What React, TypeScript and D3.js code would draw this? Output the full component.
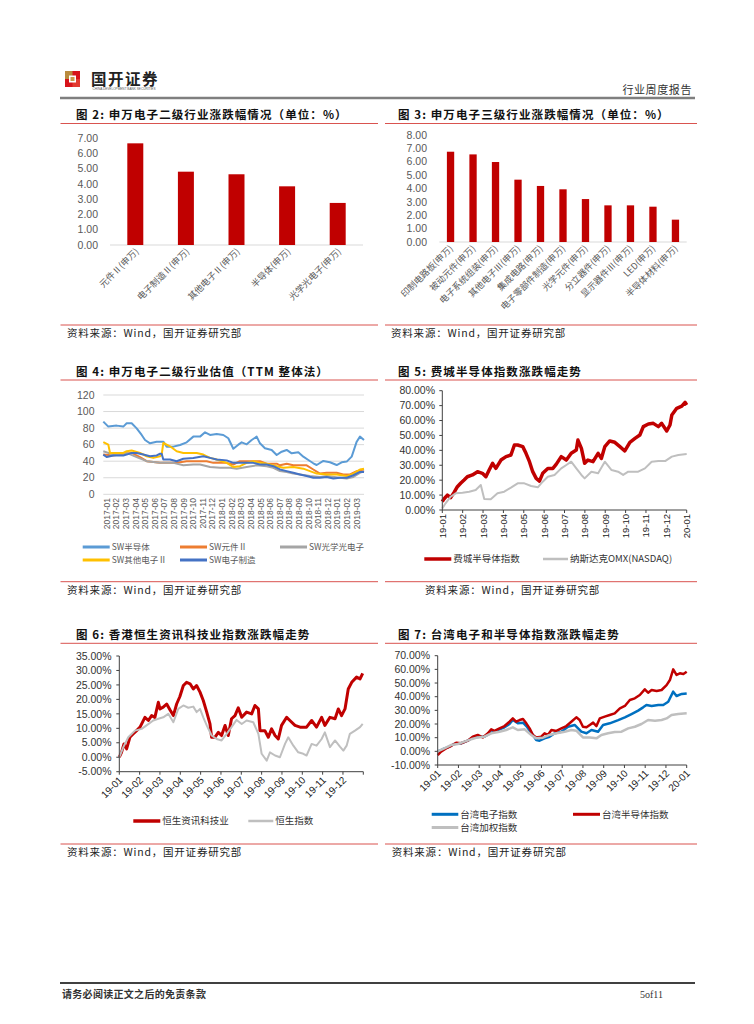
import React from "react";
import * as d3 from "d3";

const CJK = "'Noto Sans CJK SC', 'Noto Sans', sans-serif";
const LAT = "'Liberation Sans', Arial, sans-serif";
const RULE = "#D9534F";
const BAR = "#C00000";
const AXIS_TXT = "#595959";

// ---------- Figure 2 ----------
const fig2Categories = ["元件Ⅱ(申万)", "电子制造Ⅱ(申万)", "其他电子Ⅱ(申万)", "半导体(申万)", "光学光电子(申万)"];
const fig2Values = [6.67, 4.81, 4.64, 3.85, 2.76];
const fig2Ticks = [0, 1, 2, 3, 4, 5, 6, 7];

// ---------- Figure 3 ----------
const fig3Categories = ["印制电路板(申万)", "被动元件(申万)", "电子系统组装(申万)", "其他电子Ⅲ(申万)", "集成电路(申万)", "电子零部件制造(申万)", "光学元件(申万)", "分立器件(申万)", "显示器件Ⅲ(申万)", "LED(申万)", "半导体材料(申万)"];
const fig3Values = [6.75, 6.55, 5.98, 4.66, 4.19, 3.94, 3.21, 2.74, 2.74, 2.64, 1.67];
const fig3Ticks = [0, 1, 2, 3, 4, 5, 6, 7, 8];

// ---------- Figure 4 (months since 2017-01, PE) ----------
const fig4Months = ["2017-01", "2017-02", "2017-03", "2017-04", "2017-05", "2017-06", "2017-07", "2017-08", "2017-09", "2017-10", "2017-11", "2017-12", "2018-01", "2018-02", "2018-03", "2018-04", "2018-05", "2018-06", "2018-07", "2018-08", "2018-09", "2018-10", "2018-11", "2018-12", "2019-01", "2019-02", "2019-03"];
const fig4Ticks = [0, 20, 40, 60, 80, 100, 120];
const swSemi: [number, number][] = [[-0.35, 87.8], [0.17, 81.8], [1.04, 83], [1.73, 81.8], [2.08, 85.8], [2.6, 85.8], [3.12, 79.7], [3.64, 71.7], [3.99, 65.6], [4.51, 61.6], [5.2, 63.6], [5.89, 63.6], [6.24, 57.6], [6.93, 57.6], [7.63, 59.6], [8.32, 62.8], [9.01, 69.7], [9.71, 69.7], [10.23, 74.9], [10.75, 71.7], [11.44, 72.9], [12.13, 71.7], [12.65, 67.7], [13.17, 55], [13.69, 60], [14.04, 62.8], [14.56, 60.4], [15.08, 65.6], [15.6, 69.7], [15.94, 61.6], [16.46, 55.6], [17.16, 53.6], [17.68, 47.5], [18.2, 51.5], [18.72, 53.6], [19.24, 49.5], [19.93, 50.7], [20.45, 45.5], [20.97, 41.5], [21.49, 37.5], [21.84, 35.4], [22.53, 40.3], [23.22, 38.7], [23.92, 35.4], [24.44, 38.7], [24.96, 39.5], [25.48, 45.5], [26.0, 63.6], [26.34, 69.7], [26.76, 65.6]];
const swComponent: [number, number][] = [[-0.35, 48], [0.69, 47], [1.73, 49], [2.6, 50], [3.47, 45], [4.16, 40], [5.55, 38], [7.28, 38], [8.32, 40], [10.4, 40], [11.09, 38], [12.48, 38], [13.17, 36], [13.86, 40], [15.94, 40], [16.64, 37], [17.68, 37], [18.02, 35], [18.72, 37], [19.41, 35], [20.8, 35], [21.49, 30], [22.18, 25], [22.88, 26], [23.92, 26], [24.61, 24], [25.3, 24], [26.0, 28], [26.76, 30]];
const swOptical: [number, number][] = [[-0.35, 52], [0.69, 48], [2.08, 50], [3.12, 45], [4.16, 40], [5.55, 38], [6.93, 38], [7.97, 35], [9.01, 36], [9.71, 36], [10.75, 33], [11.79, 32], [12.82, 32], [13.52, 31], [14.56, 33], [15.6, 35], [16.64, 34], [17.33, 32], [18.02, 28], [18.72, 27], [19.41, 25], [20.1, 24], [21.14, 22], [22.18, 21], [22.88, 22], [24.26, 20], [24.96, 19], [25.65, 21], [26.34, 26], [26.76, 28]];
const swOther: [number, number][] = [[-0.35, 63], [0.17, 60], [0.35, 50], [1.04, 50], [1.73, 50], [2.08, 52], [2.6, 53], [3.47, 50], [4.16, 46], [4.85, 44], [5.55, 46], [5.72, 48], [5.89, 62], [6.59, 58], [7.28, 52], [7.97, 50], [8.67, 50], [9.36, 50], [10.05, 48], [10.75, 44], [11.44, 42], [12.48, 38], [13.17, 33], [13.86, 34], [14.56, 38], [15.25, 40], [15.94, 38], [16.64, 37], [17.68, 34], [18.37, 32], [19.41, 33], [20.45, 31], [21.14, 28], [21.84, 25], [22.88, 24], [23.92, 24], [24.96, 22], [25.65, 25], [26.34, 30], [26.76, 31]];
const swManufacturing: [number, number][] = [[-0.35, 48], [0, 45], [0.69, 47], [1.73, 47], [2.08, 48], [2.6, 50], [3.12, 50], [3.81, 48], [4.51, 46], [5.2, 47], [5.55, 49], [5.72, 49], [5.89, 42], [6.59, 42], [7.28, 40], [7.97, 43], [9.01, 44], [10.05, 46], [10.75, 44], [11.44, 42], [12.48, 41], [13.17, 38], [13.86, 38], [14.56, 38], [15.25, 38], [15.94, 36], [16.64, 36], [17.33, 34], [18.02, 30], [18.72, 28], [19.41, 26], [20.1, 24], [20.8, 22], [21.49, 20], [22.18, 20], [22.88, 21], [23.57, 19], [24.26, 20], [24.96, 20], [25.65, 23], [26.34, 27], [26.76, 27]];

// ---------- Figure 5 (months since 2019-01, %) ----------
const fig5Months = ["19-01", "19-02", "19-03", "19-04", "19-05", "19-06", "19-07", "19-08", "19-09", "19-10", "19-11", "19-12", "20-01"];
const fig5Ticks = [0, 10, 20, 30, 40, 50, 60, 70, 80];
const sox: [number, number][] = [[0, 5.6], [0.08, 7.4], [0.25, 10], [0.41, 8.3], [0.58, 11.8], [0.74, 15.6], [0.9, 17.9], [1.07, 20.1], [1.23, 22.3], [1.48, 23.5], [1.73, 25.7], [1.97, 24.6], [2.14, 22.3], [2.3, 26.8], [2.47, 31.3], [2.63, 27.9], [2.88, 33.5], [3.13, 35.8], [3.37, 36.9], [3.54, 43.6], [3.7, 43.6], [3.95, 42.5], [4.11, 38], [4.28, 32.4], [4.44, 25.7], [4.61, 21.2], [4.77, 19.4], [4.93, 24.6], [5.18, 27.9], [5.43, 27.9], [5.59, 30.6], [5.84, 35.8], [6.09, 33.5], [6.33, 38], [6.58, 40.2], [6.66, 46.9], [6.83, 41.3], [6.99, 31.3], [7.15, 33.5], [7.4, 32.4], [7.65, 38], [7.81, 34.6], [7.98, 42.5], [8.22, 46.3], [8.47, 45.4], [8.72, 42.5], [8.96, 39.6], [9.21, 45.4], [9.46, 48], [9.7, 50.3], [9.87, 55.9], [10.12, 57.7], [10.36, 58.1], [10.61, 55.9], [10.77, 58.1], [11.02, 53], [11.18, 57], [11.27, 63.7], [11.51, 68.2], [11.76, 69.7], [11.92, 72.2], [12.0, 70.4]];
const nasdaq: [number, number][] = [[0, 1.1], [0.16, 4.5], [0.41, 8.9], [0.66, 11.2], [0.99, 11.6], [1.32, 12.3], [1.64, 13.4], [1.89, 16.8], [2.06, 7.4], [2.38, 7.2], [2.71, 11.2], [3.04, 12.3], [3.37, 15], [3.7, 17.9], [4.03, 17.9], [4.36, 16.1], [4.69, 15.2], [4.93, 19], [5.18, 22.3], [5.51, 23.5], [5.84, 27.9], [6.09, 30.2], [6.33, 32.4], [6.58, 27.9], [6.83, 23.5], [6.99, 21.2], [7.32, 25.7], [7.65, 24.6], [7.98, 32.4], [8.31, 26.8], [8.63, 25.7], [8.88, 23.5], [9.13, 25.7], [9.62, 25.7], [9.95, 27.9], [10.28, 32.4], [10.61, 32.8], [10.94, 32.8], [11.27, 35.8], [11.59, 36.9], [12.0, 37.5]];

// ---------- Figure 6 ----------
const fig6Months = ["19-01", "19-02", "19-03", "19-04", "19-05", "19-06", "19-07", "19-08", "19-09", "19-10", "19-11", "19-12"];
const fig6Ticks = [-5, 0, 5, 10, 15, 20, 25, 30, 35];
const hsIT: [number, number][] = [[0, 0], [0.11, 1.7], [0.23, 4.6], [0.36, 2.9], [0.52, 6.9], [0.69, 8.1], [0.85, 9.2], [1.02, 10.4], [1.26, 13.8], [1.43, 12.7], [1.59, 14.4], [1.75, 13.8], [1.92, 19], [2.0, 16.7], [2.16, 17.3], [2.33, 18.4], [2.49, 16.4], [2.66, 14.4], [2.82, 18.4], [2.98, 21], [3.15, 24.8], [3.31, 25.9], [3.48, 25.4], [3.64, 23.6], [3.8, 24.8], [3.97, 22.5], [4.13, 19.6], [4.3, 15.6], [4.46, 11.5], [4.54, 6.9], [4.7, 6.9], [4.87, 8.6], [5.03, 7.5], [5.2, 11], [5.36, 7.5], [5.52, 13.3], [5.69, 14.4], [5.85, 17.1], [6.02, 13.8], [6.26, 15.6], [6.51, 15], [6.67, 17.9], [6.84, 16.7], [6.92, 9.2], [7.16, 9.2], [7.33, 6.9], [7.49, 9.8], [7.66, 7.5], [7.82, 6.3], [7.98, 11], [8.23, 13.8], [8.39, 12.7], [8.64, 11], [8.89, 10.4], [9.21, 10.4], [9.46, 12.7], [9.7, 10.4], [9.95, 13.8], [10.11, 11], [10.36, 13.8], [10.61, 13.3], [10.77, 16.7], [10.93, 14.4], [11.1, 16.7], [11.26, 23.6], [11.43, 25.9], [11.67, 27.7], [11.84, 27.1], [11.97, 29]];
const hsi: [number, number][] = [[0, 0], [0.2, 3.5], [0.44, 6.9], [0.77, 9.2], [1.1, 9.8], [1.34, 11], [1.67, 12.7], [1.92, 13.3], [2.16, 13.8], [2.41, 15], [2.66, 12.1], [2.9, 16.7], [3.15, 17.9], [3.39, 17.1], [3.64, 17.5], [3.8, 15.6], [3.97, 16.7], [4.13, 13.8], [4.3, 11], [4.54, 7.5], [4.79, 6.3], [5.03, 5.8], [5.28, 8.1], [5.52, 10.4], [5.77, 12.9], [6.02, 11.5], [6.26, 12.7], [6.59, 12.1], [6.84, 8.1], [7.0, 1.2], [7.25, -1.2], [7.41, 1.7], [7.66, 0.6], [7.9, 0], [8.15, 4.6], [8.31, 6.9], [8.56, 4], [8.8, 1.7], [9.05, 1.2], [9.21, 0.6], [9.46, 4.6], [9.7, 4], [9.95, 6.3], [10.11, 8.6], [10.36, 3.5], [10.61, 5.8], [10.85, 3.7], [11.02, 2.3], [11.18, 4], [11.34, 8.1], [11.59, 9.2], [11.84, 10.4], [11.97, 11.5]];

// ---------- Figure 7 ----------
const fig7Months = ["19-01", "19-02", "19-03", "19-04", "19-05", "19-06", "19-07", "19-08", "19-09", "19-10", "19-11", "19-12", "20-01"];
const fig7Ticks = [-10, 0, 10, 20, 30, 40, 50, 60, 70];
const twElec: [number, number][] = [[0, 0], [0.24, 1.5], [0.48, 2.9], [0.81, 5.4], [1.13, 5.9], [1.45, 7.8], [1.69, 10.2], [2.01, 10.7], [2.25, 10.7], [2.58, 13.7], [2.9, 15.6], [3.22, 17.6], [3.46, 20], [3.62, 22.9], [3.86, 20.5], [4.11, 21], [4.27, 18.5], [4.51, 13.7], [4.75, 8.3], [4.91, 7.8], [5.15, 9.5], [5.39, 10.7], [5.64, 13.2], [5.96, 14.4], [6.28, 18], [6.6, 19.3], [6.92, 14.4], [7.17, 13.2], [7.41, 15.6], [7.73, 14.4], [7.97, 19.3], [8.29, 20.5], [8.7, 22.9], [9.02, 24.9], [9.34, 27.3], [9.66, 29.8], [9.9, 32.2], [10.06, 33.9], [10.31, 33.2], [10.63, 33.9], [10.87, 33.9], [11.11, 36.3], [11.35, 43.7], [11.51, 40.5], [11.76, 42], [12.0, 42.4]];
const twSemi: [number, number][] = [[0, -2.7], [0.16, -0.2], [0.4, 2.2], [0.64, 3.9], [0.89, 6.3], [1.13, 5.9], [1.45, 7.8], [1.69, 10.7], [1.93, 12], [2.17, 10.2], [2.42, 13.2], [2.58, 16.1], [2.74, 14.9], [2.98, 16.8], [3.22, 18.5], [3.46, 21.7], [3.62, 24.1], [3.78, 21.7], [3.95, 22.9], [4.11, 23.7], [4.27, 20.5], [4.43, 16.8], [4.59, 12], [4.75, 10.2], [4.99, 10.7], [5.15, 13.2], [5.31, 12], [5.48, 15.6], [5.72, 14.9], [5.96, 16.8], [6.2, 18.5], [6.44, 21.7], [6.68, 24.9], [6.84, 22.9], [7.0, 18], [7.17, 17.6], [7.33, 19.3], [7.49, 21], [7.65, 18.5], [7.81, 24.1], [8.05, 25.4], [8.29, 26.6], [8.53, 27.8], [8.78, 31.5], [9.02, 33.2], [9.26, 37.6], [9.5, 38.8], [9.74, 41.2], [9.98, 45.4], [10.14, 42.9], [10.31, 44.9], [10.55, 44.1], [10.79, 44.9], [11.03, 48.5], [11.19, 52.2], [11.35, 60], [11.51, 55.9], [11.67, 57.1], [11.84, 56.6], [12.0, 58.3]];
const twWeighted: [number, number][] = [[0, 0], [0.32, 2.2], [0.64, 4.6], [0.97, 5.4], [1.29, 7.1], [1.61, 8.8], [1.93, 10.2], [2.25, 10.7], [2.58, 13.2], [2.98, 14.4], [3.3, 15.6], [3.62, 17.6], [3.86, 15.6], [4.19, 16.1], [4.51, 12], [4.75, 9.5], [5.07, 10], [5.39, 12], [5.72, 13.2], [6.12, 14.4], [6.44, 15.6], [6.68, 15.1], [7.0, 10.2], [7.33, 10.2], [7.65, 9.5], [7.89, 12], [8.21, 13.2], [8.53, 14.1], [8.86, 14.4], [9.18, 16.8], [9.5, 18], [9.82, 20], [10.14, 22.9], [10.47, 22.4], [10.79, 22.9], [11.03, 24.1], [11.27, 26.6], [11.59, 27.3], [12.0, 27.8]];

function Title({ x, y, text }: { x: number; y: number; text: string }) {
  return (
    <text x={x} y={y} fontFamily={CJK} fontWeight={700} fontSize={11.5} letterSpacing={1.1} fill="#111">
      {text}
    </text>
  );
}

function Rule({ x1, x2, y }: { x1: number; x2: number; y: number }) {
  return <line x1={x1} x2={x2} y1={y} y2={y} stroke={RULE} strokeWidth={1} />;
}

function Source({ x, y }: { x: number; y: number }) {
  return (
    <text x={x} y={y} fontFamily={CJK} fontSize={10.5} letterSpacing={0.8} fill="#222">
      资料来源：Wind，国开证券研究部
    </text>
  );
}

function BarChart(props: {
  cats: string[]; vals: number[]; ticks: number[];
  left: number; right: number; top: number; base: number; labelRight: number; barFrac: number; labelDx: number;
}) {
  const { cats, vals, ticks, left, right, top, base, labelRight, barFrac, labelDx } = props;
  const y = d3.scaleLinear().domain([0, ticks[ticks.length - 1]]).range([base, top]);
  const x = d3.scaleBand().domain(cats).range([left, right]).paddingInner(1 - barFrac).paddingOuter((1 - barFrac) / 2);
  return (
    <g>
      {ticks.map((t) => (
        <text key={t} x={labelRight} y={y(t)} dy="0.35em" textAnchor="end" fontFamily={LAT} fontSize={10.5} fill={AXIS_TXT}>
          {t.toFixed(2)}
        </text>
      ))}
      <line x1={left} x2={right} y1={base} y2={base} stroke="#D9D9D9" strokeWidth={1} />
      {cats.map((c, i) => (
        <rect key={c} x={x(c)} y={y(vals[i])} width={x.bandwidth()} height={base - y(vals[i])} fill={BAR} />
      ))}
      {cats.map((c) => {
        const cx = (x(c) as number) + x.bandwidth() / 2 + labelDx;
        return (
          <text key={c} transform={`translate(${cx},${base + 7}) rotate(-45)`} textAnchor="end" fontFamily={CJK} fontSize={9} fill={AXIS_TXT}>
            {c}
          </text>
        );
      })}
    </g>
  );
}

function Fig4() {
  const x = d3.scaleLinear().domain([-0.35, 26.76]).range([103.3, 364]);
  const y = d3.scaleLinear().domain([0, 120]).range([494.3, 395]);
  const line = d3.line<[number, number]>().x((d) => x(d[0])).y((d) => y(d[1]));
  const series: { name: string; data: [number, number][]; color: string }[] = [
    { name: "SW半导体", data: swSemi, color: "#5B9BD5" },
    { name: "SW元件Ⅱ", data: swComponent, color: "#ED7D31" },
    { name: "SW光学光电子", data: swOptical, color: "#A5A5A5" },
    { name: "SW其他电子Ⅱ", data: swOther, color: "#FFC000" },
    { name: "SW电子制造", data: swManufacturing, color: "#4472C4" },
  ];
  const legendPos = [
    [82.7, 547], [180, 547], [280, 547], [82.7, 560], [180, 560],
  ];
  return (
    <g>
      {fig4Ticks.map((t) => (
        <g key={t}>
          <line x1={103.3} x2={364} y1={y(t)} y2={y(t)} stroke="#D9D9D9" strokeWidth={1} />
          <text x={94.5} y={y(t)} dy="0.35em" textAnchor="end" fontFamily={LAT} fontSize={10.5} fill={AXIS_TXT}>{t}</text>
        </g>
      ))}
      {fig4Months.map((m, i) => (
        <text key={m} transform={`translate(${x(i) + 3},${498}) rotate(-90)`} textAnchor="end" fontFamily={LAT} fontSize={8.5} fill={AXIS_TXT}>{m}</text>
      ))}
      {series.map((s) => (
        <path key={s.name} d={line(s.data) || ""} fill="none" stroke={s.color} strokeWidth={2} strokeLinejoin="round" />
      ))}
      {series.map((s, i) => (
        <g key={s.name}>
          <line x1={legendPos[i][0]} x2={legendPos[i][0] + 27} y1={legendPos[i][1]} y2={legendPos[i][1]} stroke={s.color} strokeWidth={3} />
          <text x={legendPos[i][0] + 29} y={legendPos[i][1]} dy="0.35em" fontFamily={CJK} fontSize={8.5} fill={AXIS_TXT}>{s.name}</text>
        </g>
      ))}
    </g>
  );
}

function TimeChart(props: {
  left: number; right: number; top: number; bottom: number; ticks: number[]; months: string[]; nMonths: number;
  labelRight: number; rotate: number; series: { data: [number, number][]; color: string; width: number }[];
  labelSize: number;
}) {
  const { left, right, top, bottom, ticks, months, nMonths, labelRight, rotate, series, labelSize } = props;
  const x = d3.scaleLinear().domain([0, nMonths]).range([left, right]);
  const y = d3.scaleLinear().domain([ticks[0], ticks[ticks.length - 1]]).range([bottom, top]);
  const line = d3.line<[number, number]>().x((d) => x(d[0])).y((d) => y(d[1]));
  const axisColor = "#404040";
  return (
    <g>
      {series.map((s, i) => (
        <path key={i} d={line(s.data) || ""} fill="none" stroke={s.color} strokeWidth={s.width} strokeLinejoin="round" />
      ))}
      <line x1={left} x2={left} y1={top} y2={bottom} stroke={axisColor} strokeWidth={1} />
      <line x1={left} x2={right} y1={bottom} y2={bottom} stroke={axisColor} strokeWidth={1} />
      {ticks.map((t) => (
        <g key={t}>
          <line x1={left - 3} x2={left} y1={y(t)} y2={y(t)} stroke={axisColor} strokeWidth={1} />
          <text x={labelRight} y={y(t)} dy="0.35em" textAnchor="end" fontFamily={LAT} fontSize={10.5} fill="#333">
            {t.toFixed(2) + "%"}
          </text>
        </g>
      ))}
      {d3.range(0, nMonths + 1).map((i) => (
        <line key={i} x1={x(i)} x2={x(i)} y1={bottom} y2={bottom + 3} stroke={axisColor} strokeWidth={1} />
      ))}
      {months.map((m, i) =>
        rotate === -90 ? (
          <text key={m} transform={`translate(${x(i) + 3.5},${bottom + 4}) rotate(-90)`} textAnchor="end" fontFamily={LAT} fontSize={labelSize} fill="#222">{m}</text>
        ) : (
          <text key={m} transform={`translate(${x(i) + 4},${bottom + 9}) rotate(-45)`} textAnchor="end" fontFamily={LAT} fontSize={labelSize} fill="#222">{m}</text>
        )
      )}
    </g>
  );
}

function Legend({ items }: { items: { x: number; y: number; color: string; width: number; label: string; len: number }[] }) {
  return (
    <g>
      {items.map((it) => (
        <g key={it.label}>
          <line x1={it.x} x2={it.x + it.len} y1={it.y} y2={it.y} stroke={it.color} strokeWidth={it.width} />
          <text x={it.x + it.len + 2} y={it.y} dy="0.35em" fontFamily={CJK} fontSize={9.5} fill="#333">{it.label}</text>
        </g>
      ))}
    </g>
  );
}

export default function App() {
  return (
    <div style={{ position: "absolute", left: 0, top: 0 }}>
      <svg width={754} height={1024} viewBox="0 0 754 1024" style={{ display: "block", background: "#fff" }}>
        {/* Header */}
        <rect x={65} y={71} width={15} height={16} fill="#D7141A" />
        <rect x={65} y={71} width={7.5} height={8} fill="#B98B3E" />
        <rect x={72.5} y={79} width={7.5} height={8} fill="#E23A2F" />
        <rect x={69} y={75.5} width={7} height={7} fill="#fff" />
        <rect x={70.5} y={77} width={4} height={4} fill="#C89B4A" />
        <text x={91} y={84.5} fontFamily={CJK} fontWeight={700} fontSize={15.5} letterSpacing={1.5} fill="#222">国开证券</text>
        <text x={92.5} y={89.5} fontFamily={LAT} fontSize={3.6} textLength={63} lengthAdjust="spacingAndGlyphs" fill="#555">CHINA DEVELOPMENT BANK SECURITIES</text>
        <text x={692} y={94} textAnchor="end" fontFamily={CJK} fontSize={11} letterSpacing={0.6} fill="#333">行业周度报告</text>
        <line x1={60} x2={695} y1={98} y2={98} stroke="#7F7F7F" strokeWidth={2.5} />

        {/* Figure 2 */}
        <Title x={76} y={119} text="图 2:  申万电子二级行业涨跌幅情况（单位：%）" />
        <Rule x1={60.5} x2={378} y={123.5} />
        <BarChart cats={fig2Categories} vals={fig2Values} ticks={fig2Ticks} left={110} right={363} top={138.3} base={245} labelRight={98} barFrac={0.316} labelDx={4} />
        <Rule x1={60.5} x2={378} y={325} />
        <Source x={67} y={337} />

        {/* Figure 3 */}
        <Title x={398} y={119} text="图 3:  申万电子三级行业涨跌幅情况（单位：%）" />
        <Rule x1={385} x2={697} y={123.5} />
        <BarChart cats={fig3Categories} vals={fig3Values} ticks={fig3Ticks} left={439.3} right={686.7} top={135} base={242} labelRight={427} barFrac={0.325} labelDx={3} />
        <Rule x1={385} x2={697} y={325} />
        <Source x={391} y={337} />

        {/* Figure 4 */}
        <Title x={76} y={376} text="图 4:  申万电子二级行业估值（TTM 整体法）" />
        <Rule x1={60.5} x2={378} y={380} />
        <Fig4 />
        <Rule x1={60.5} x2={378} y={581.7} />
        <Source x={67} y={594} />

        {/* Figure 5 */}
        <Title x={398} y={376} text="图 5:  费城半导体指数涨跌幅走势" />
        <Rule x1={385} x2={697} y={380} />
        <TimeChart left={442.3} right={686.7} top={390.7} bottom={510} ticks={fig5Ticks} months={fig5Months} nMonths={12} labelRight={435} rotate={-90} labelSize={9.5}
          series={[{ data: sox, color: "#C00000", width: 3.5 }, { data: nasdaq, color: "#BFBFBF", width: 2 }]} />
        <Legend items={[
          { x: 424.3, y: 559, color: "#C00000", width: 3.5, label: "费城半导体指数", len: 27 },
          { x: 543, y: 559, color: "#BFBFBF", width: 2.5, label: "纳斯达克OMX(NASDAQ)", len: 25 },
        ]} />
        <Rule x1={385} x2={697} y={581.7} />
        <Source x={425} y={594} />

        {/* Figure 6 */}
        <Title x={76} y={639} text="图 6:  香港恒生资讯科技业指数涨跌幅走势" />
        <Rule x1={60.5} x2={378} y={643.3} />
        <TimeChart left={119.3} right={363.3} top={656} bottom={771.7} ticks={fig6Ticks} months={fig6Months} nMonths={12} labelRight={111.5} rotate={-45} labelSize={10}
          series={[{ data: hsIT, color: "#C00000", width: 3 }, { data: hsi, color: "#BFBFBF", width: 2 }]} />
        <Legend items={[
          { x: 133.3, y: 821, color: "#C00000", width: 3.5, label: "恒生资讯科技业", len: 27 },
          { x: 248.3, y: 821, color: "#BFBFBF", width: 2.5, label: "恒生指数", len: 25 },
        ]} />
        <Rule x1={60.5} x2={378} y={844} />
        <Source x={67} y={855.5} />

        {/* Figure 7 */}
        <Title x={398} y={639} text="图 7:  台湾电子和半导体指数涨跌幅走势" />
        <Rule x1={385} x2={697} y={643.3} />
        <TimeChart left={437.7} right={686.7} top={655.7} bottom={765} ticks={fig7Ticks} months={fig7Months} nMonths={12} labelRight={430} rotate={-45} labelSize={10}
          series={[{ data: twElec, color: "#0070C0", width: 2.5 }, { data: twSemi, color: "#C00000", width: 2.5 }, { data: twWeighted, color: "#BFBFBF", width: 2.5 }]} />
        <Legend items={[
          { x: 431.7, y: 814.3, color: "#0070C0", width: 3, label: "台湾电子指数", len: 26.6 },
          { x: 573, y: 814.3, color: "#C00000", width: 3, label: "台湾半导体指数", len: 27 },
          { x: 431.7, y: 827.5, color: "#BFBFBF", width: 3, label: "台湾加权指数", len: 26.6 },
        ]} />
        <Rule x1={385} x2={697} y={844} />
        <Source x={391.7} y={855.5} />

        {/* Footer */}
        <line x1={60} x2={695} y1={983} y2={983} stroke="#404040" strokeWidth={2} />
        <text x={62} y={998} fontFamily={CJK} fontWeight={700} fontSize={10} letterSpacing={0.3} fill="#333">请务必阅读正文之后的免责条款</text>
        <text x={640} y={998} fontFamily="'Liberation Serif', serif" fontSize={10} fill="#333">5of11</text>
      </svg>
    </div>
  );
}
